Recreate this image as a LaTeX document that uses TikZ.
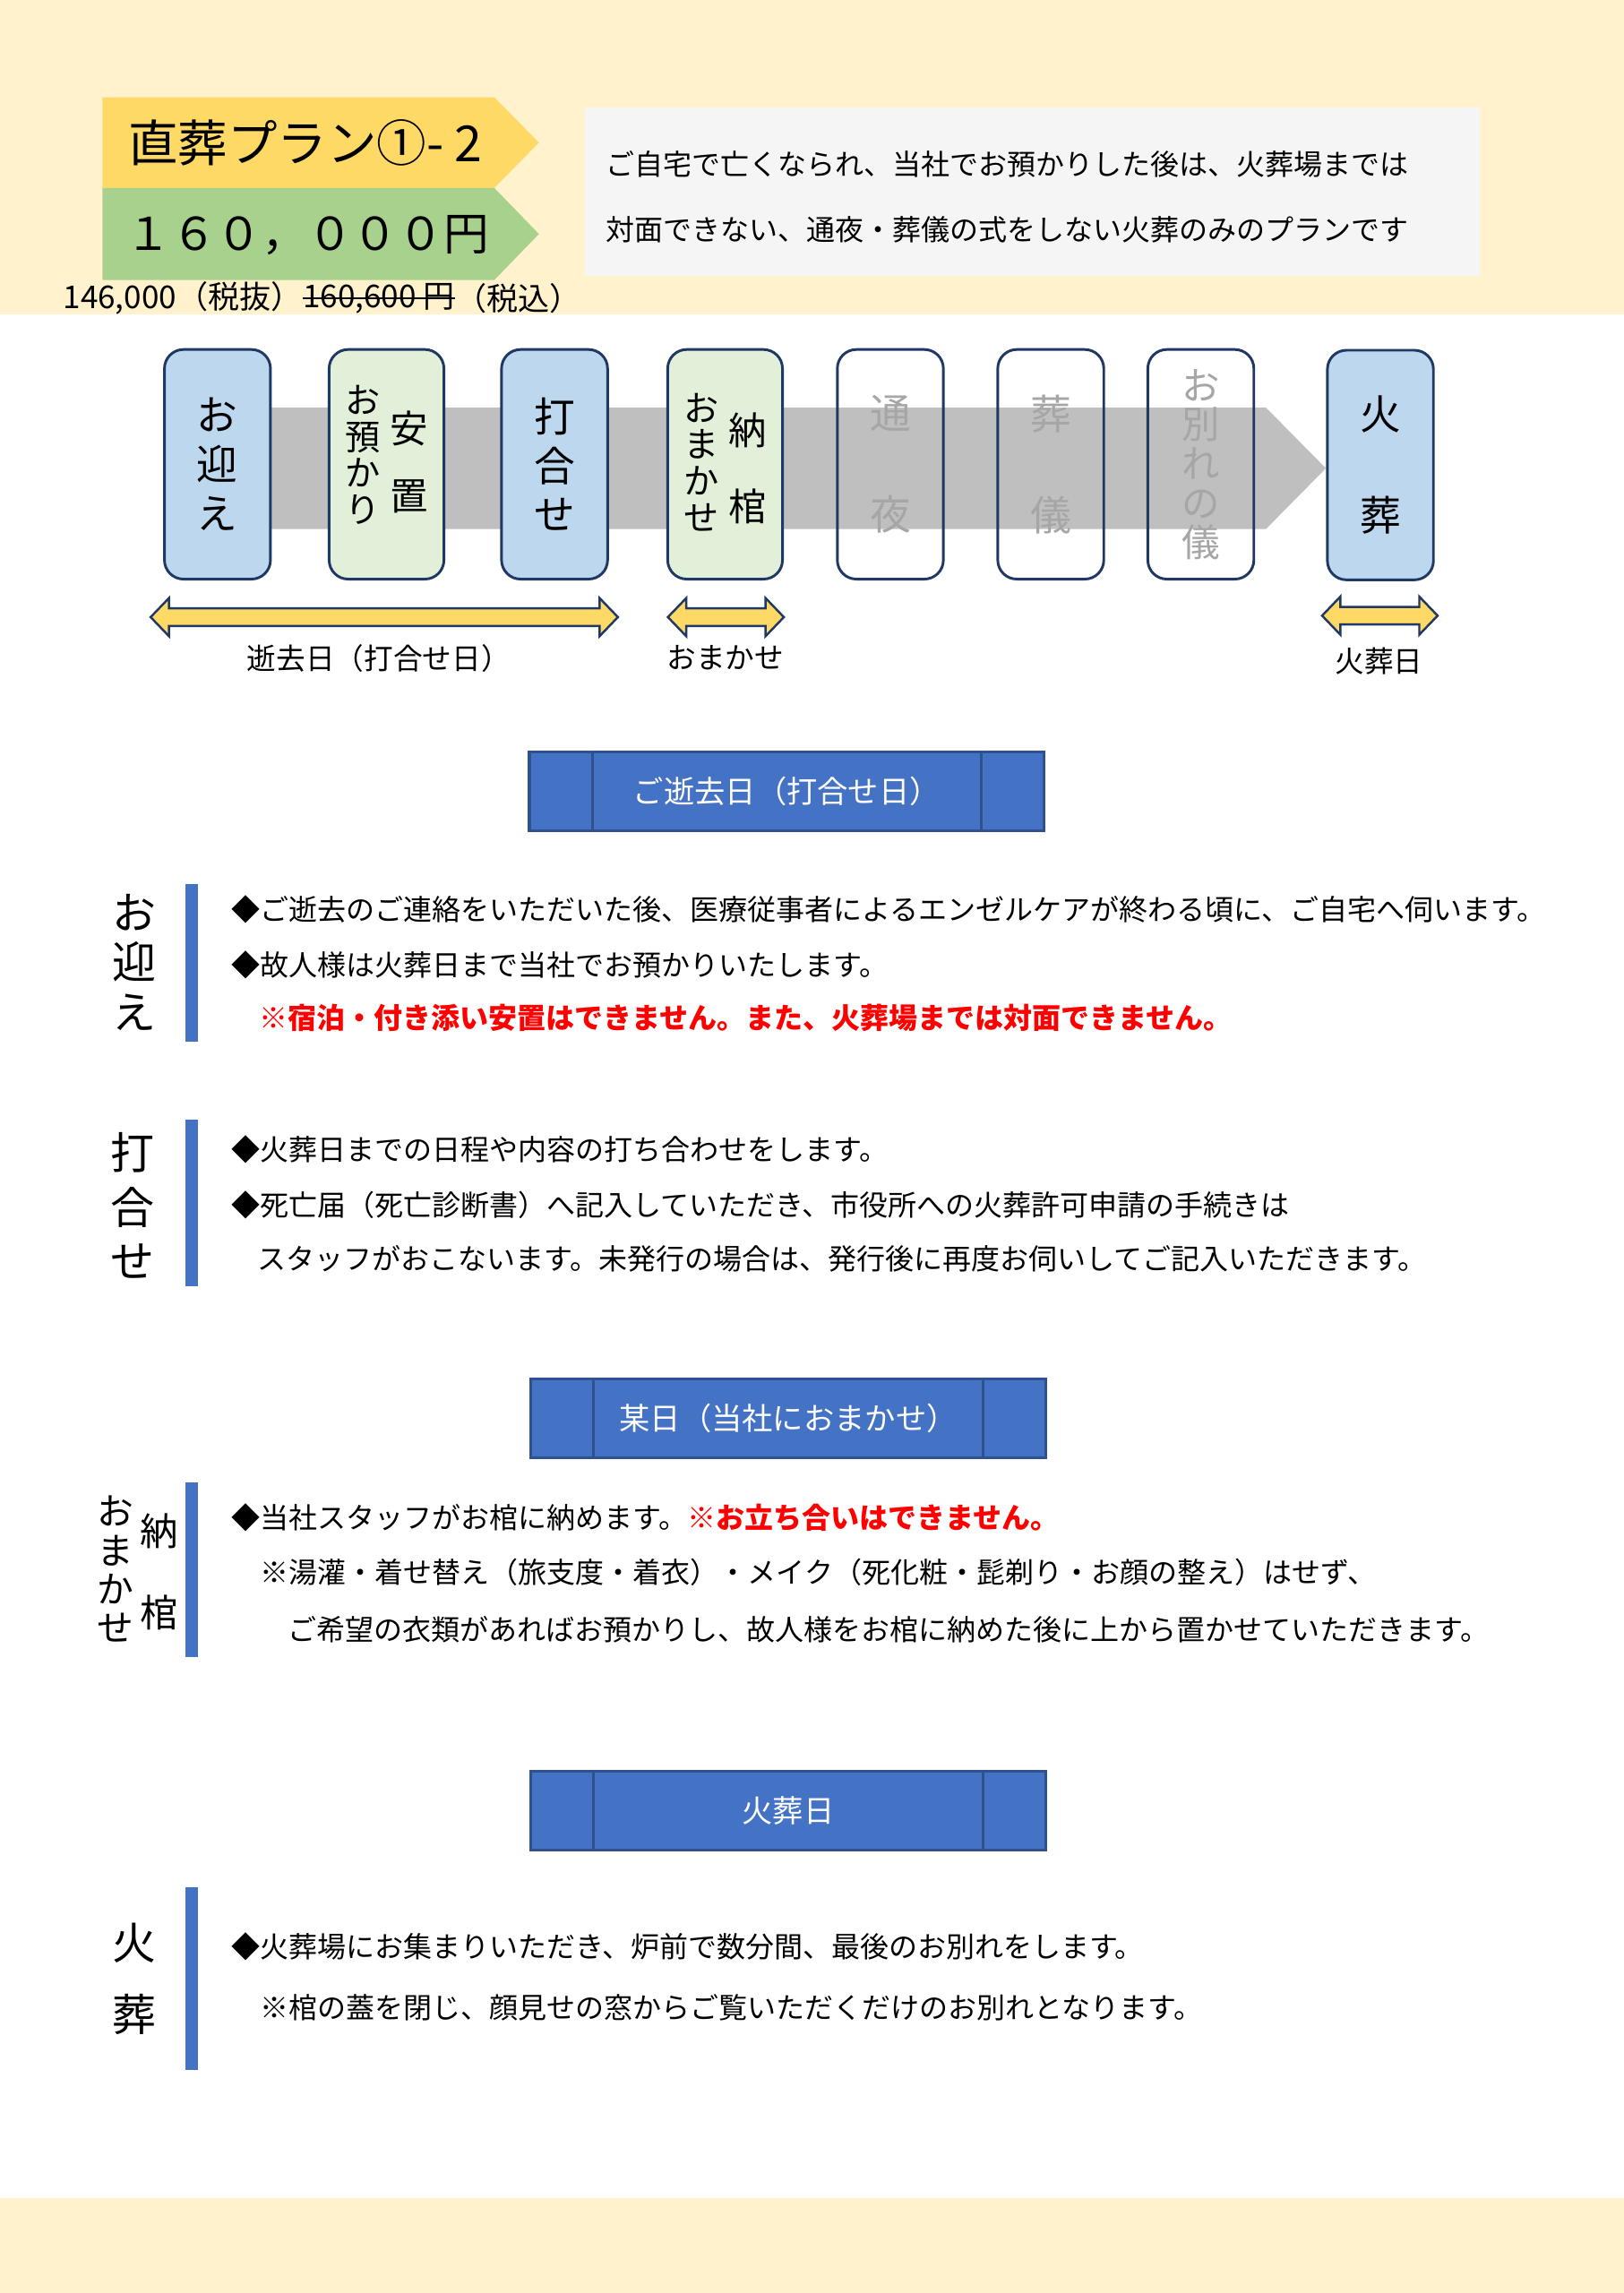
\documentclass[tikz,border=0pt]{standalone}
\usepackage{fontspec}
\setmainfont{Noto Sans CJK JP}
\definecolor{cream}{HTML}{FFF2CC}
\definecolor{ttlyellow}{HTML}{FFD966}
\definecolor{ttlgreen}{HTML}{A9D18E}
\definecolor{descgrey}{HTML}{F5F5F5}
\definecolor{lblue}{HTML}{BDD7EE}
\definecolor{lgreen}{HTML}{E2F0D9}
\definecolor{navy}{HTML}{1F3864}
\definecolor{band}{HTML}{BFBFBF}
\definecolor{hdrblue}{HTML}{4472C4}
\definecolor{hdrborder}{HTML}{2F528F}
\definecolor{fadetext}{HTML}{A6A6A6}
\definecolor{warnred}{HTML}{FF0000}
\newcommand{\fs}[2]{\fontsize{#1}{#2}\selectfont}
\newcommand{\spanarr}[3]{%
  \filldraw[spanline] (#1,#3) -- ({#1+12.5},{#3-13}) -- ({#1+12.5},{#3-6}) -- ({#2-12.5},{#3-6}) -- ({#2-12.5},{#3-13}) -- (#2,#3) -- ({#2-12.5},{#3+13}) -- ({#2-12.5},{#3+6}) -- ({#1+12.5},{#3+6}) -- ({#1+12.5},{#3+13}) -- cycle;}
\begin{document}
\begin{tikzpicture}[x=1pt,y=-1pt,
  boxbase/.style={draw=navy, line width=1.8pt, rounded corners=13pt, minimum height=157pt, inner sep=0pt, align=center},
  bluebox/.style={boxbase, fill=lblue, minimum width=72.5pt},
  greenbox/.style={boxbase, fill=lgreen, minimum width=78.5pt},
  emptybox/.style={boxbase, minimum width=72.5pt, text=fadetext},
  vt/.style={align=center, inner sep=0pt},
  body/.style={anchor=west, inner sep=0pt, font=\fs{19.6}{21}},
  warn/.style={anchor=west, inner sep=0pt, font=\bfseries\fs{19.6}{21}, text=warnred},
  hdr/.style={draw=hdrborder, line width=2pt, fill=hdrblue, minimum width=352pt, minimum height=54pt, inner sep=0pt, text=white, font=\fs{21}{23}},
  hdrline/.style={draw=hdrborder, line width=2pt},
  sidebar/.style={fill=hdrblue},
  spanline/.style={draw=navy, line width=1.5pt, fill=ttlyellow},
  lbl/.style={inner sep=0pt, font=\fs{20}{22}},
  pricetxt/.style={anchor=west, inner sep=0pt, font=\fs{21.5}{23}}
]
\useasboundingbox (0,0) rectangle (1110.4,1568);
\fill[white] (0,0) rectangle (1110.4,1568);
\fill[cream] (0,0) rectangle (1110.4,215);
\fill[cream] (0,1503) rectangle (1110.4,1568);

% title
\fill[ttlyellow] (70,66.5) -- (338,66.5) -- (368.5,97.5) -- (338,128.5) -- (70,128.5) -- cycle;
\fill[ttlgreen] (70,128.5) -- (338,128.5) -- (368.5,160) -- (338,191.5) -- (70,191.5) -- cycle;
\node[anchor=west, inner sep=0pt, font=\fs{34}{36}] (plan) at (87.5,97.5) {直葬プラン①- 2};
\node[anchor=west, inner sep=0pt, font=\fs{31}{33}] (price) at (86,161) {１６０，０００円};
\node[pricetxt] (p1) at (43,204) {146,000（税抜）};
\node[pricetxt] (p2) at (p1.east) {160,600 円};
\node[pricetxt] (p3) at (p2.east) {（税込）};
\draw[line width=1.4pt] (p2.west) -- (p2.east);

% description
\node[fill=descgrey, minimum width=612pt, minimum height=115.5pt, inner sep=0pt] (desc) at (706,131) {};
\node[body] (d1) at (414,112) {ご自宅で亡くなられ、当社でお預かりした後は、火葬場までは};
\node[body] (d2) at (414,157) {対面できない、通夜・葬儀の式をしない火葬のみのプランです};

% timeline band
\fill[band] (150,278.7) -- (865.6,278.7) -- (906.6,320.2) -- (865.6,361.8) -- (150,361.8) -- cycle;

% timeline boxes
\node[bluebox, font=\fs{28}{33.5}] (mukae) at (148.7,317.5) {お\\迎\\え};
\node[greenbox] (anchi) at (264.3,317.5) {};
\node[vt, font=\fs{24}{25}] (azukari) at (248,311) {お\\預\\か\\り};
\node[vt, font=\fs{26}{46}] (anchitxt) at (279.5,316) {安\\置};
\node[bluebox, font=\fs{28}{33.5}] (uchi) at (379.2,317.5) {打\\合\\せ};
\node[greenbox] (noukan) at (495.8,317.5) {};
\node[vt, font=\fs{24}{25}] (omakase) at (479.5,316) {お\\ま\\か\\せ};
\node[vt, font=\fs{26}{52}] (noukantxt) at (511.5,320) {納\\棺};
\node[emptybox, font=\fs{28}{69}] (tsuya) at (608.8,317.5) {通\\夜};
\node[emptybox, font=\fs{28}{69}] (sougi) at (718.5,317.5) {葬\\儀};
\node[emptybox, font=\fs{26}{26.8}] (owakare) at (821.1,317.5) {お\\別\\れ\\の\\儀};
\node[bluebox, font=\fs{28}{69}] (kasou) at (943.9,318) {火\\葬};

% span arrows
\spanarr{103}{422.5}{422}
\spanarr{456.7}{536}{422}
\spanarr{904}{983}{421}
\node[lbl] (lbl1) at (259,450) {逝去日（打合せ日）};
\node[lbl] (lbl2) at (496,450) {おまかせ};
\node[lbl] (lbl3) at (943,452) {火葬日};

% headers
\node[hdr] (h1) at (538,541) {ご逝去日（打合せ日）};
\draw[hdrline] ([xshift=44pt]h1.north west) -- ([xshift=44pt]h1.south west);
\draw[hdrline] ([xshift=-44pt]h1.north east) -- ([xshift=-44pt]h1.south east);
\node[hdr] (h2) at (539,970) {某日（当社におまかせ）};
\draw[hdrline] ([xshift=44pt]h2.north west) -- ([xshift=44pt]h2.south west);
\draw[hdrline] ([xshift=-44pt]h2.north east) -- ([xshift=-44pt]h2.south east);
\node[hdr] (h3) at (539,1238) {火葬日};
\draw[hdrline] ([xshift=44pt]h3.north west) -- ([xshift=44pt]h3.south west);
\draw[hdrline] ([xshift=-44pt]h3.north east) -- ([xshift=-44pt]h3.south east);

% side bars
\fill[sidebar] (127,604.3) rectangle (135.5,712.5);
\fill[sidebar] (127,765.6) rectangle (135.5,879.6);
\fill[sidebar] (127,1013.7) rectangle (135.5,1133);
\fill[sidebar] (127,1290.7) rectangle (135.5,1415.3);

% side labels
\node[vt, font=\fs{30}{34.2}] (lab1) at (92,658) {お\\迎\\え};
\node[vt, font=\fs{30}{37}] (lab2) at (90.5,824.5) {打\\合\\せ};
\node[vt, font=\fs{25}{26.5}] (lab3a) at (79,1073) {お\\ま\\か\\せ};
\node[vt, font=\fs{26}{55.5}] (lab3b) at (109,1075) {納\\棺};
\node[vt, font=\fs{30}{49}] (lab4) at (91.6,1353.5) {火\\葬};

% section 1
\node[body] (m1) at (158,621.7) {◆ご逝去のご連絡をいただいた後、医療従事者によるエンゼルケアが終わる頃に、ご自宅へ伺います。};
\node[body] (m2) at (158,660) {◆故人様は火葬日まで当社でお預かりいたします。};
\node[warn] (m3) at (177,696) {※宿泊・付き添い安置はできません。また、火葬場までは対面できません。};

% section 2
\node[body] (u1) at (158,786) {◆火葬日までの日程や内容の打ち合わせをします。};
\node[body] (u2) at (158,824) {◆死亡届（死亡診断書）へ記入していただき、市役所への火葬許可申請の手続きは};
\node[body] (u3) at (176,861) {スタッフがおこないます。未発行の場合は、発行後に再度お伺いしてご記入いただきます。};

% section 3
\node[body] (n1) at (158,1038) {◆当社スタッフがお棺に納めます。};
\node[warn] (n1r) at (n1.east) {※お立ち合いはできません。};
\node[body] (n2) at (178,1075) {※湯灌・着せ替え（旅支度・着衣）・メイク（死化粧・髭剃り・お顔の整え）はせず、};
\node[body] (n3) at (197,1114) {ご希望の衣類があればお預かりし、故人様をお棺に納めた後に上から置かせていただきます。};

% section 4
\node[body] (k1) at (158,1331) {◆火葬場にお集まりいただき、炉前で数分間、最後のお別れをします。};
\node[body] (k2) at (177.6,1373) {※棺の蓋を閉じ、顔見せの窓からご覧いただくだけのお別れとなります。};
\end{tikzpicture}
\end{document}
